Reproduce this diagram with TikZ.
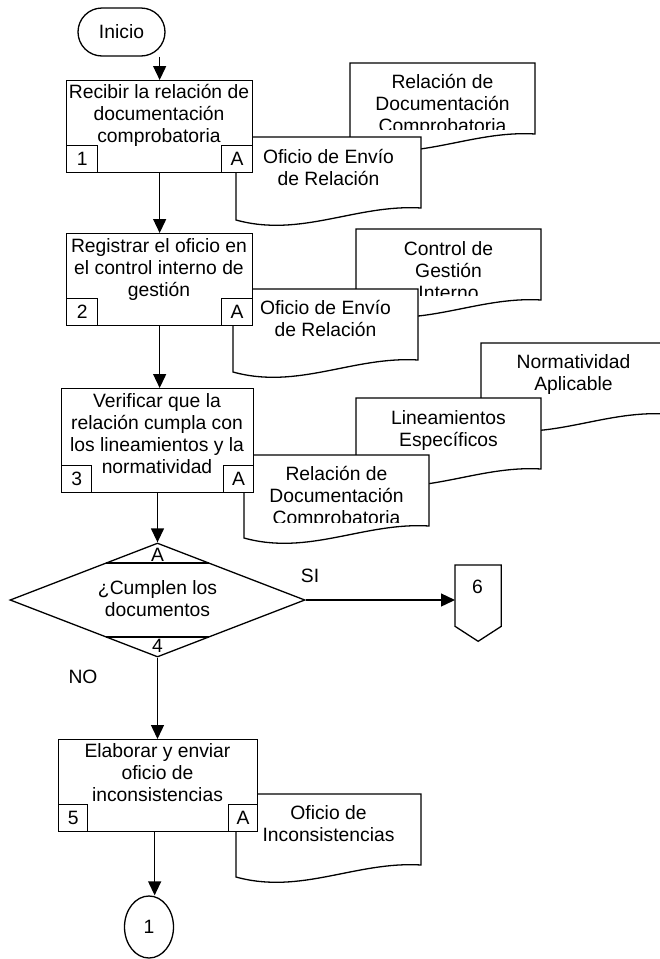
\documentclass[tikz,border=0pt]{standalone}
\usepackage{fontspec}
\setmainfont{Liberation Sans}
\usetikzlibrary{arrows.meta,shapes.geometric,calc}
\newcommand\ffont{\fontsize{19.3}{22}\selectfont}
% document shape: #1 = left x, #2 = top y
\newcommand\docpath[2]{%
  \draw[docline] (#1,#2) -- ({#1+185},#2) -- ({#1+185},{#2+71})
    .. controls ({#1+120},{#2+67}) and ({#1+65},{#2+101}) .. (#1,{#2+83}) -- cycle;}
\begin{document}
\begin{tikzpicture}[x=1pt,y=-1pt,line width=1.3pt,
  docline/.style={draw,fill=white},
  procbox/.style={draw,fill=white,inner sep=0,anchor=north west},
  tagbox/.style={draw,fill=white,inner sep=0,anchor=north west,minimum width=31pt,minimum height=27pt,font=\ffont},
  txt/.style={font=\ffont,align=center,inner sep=0,anchor=base},
  arr/.style={-{Triangle[length=14pt,width=13pt]}}]
\useasboundingbox (0,0) rectangle (660,959);
% (text nodes: anchor=base is the baseline of the LAST line)

% Inicio
\node[draw,rounded corners=24pt,minimum width=87pt,minimum height=48pt,inner sep=0,font=\ffont] (ini) at (121.5,32) {Inicio};

% ---------- step 1 ----------
\docpath{350}{63}
\begin{scope}
  \clip (340,50) rectangle (545,129);
  \node[txt] (d1b) at (442.5,132) {Relación de\\Documentación\\Comprobatoria};
\end{scope}
\docpath{236}{137}
\node[txt] (d1f) at (328.5,185) {Oficio de Envío\\de Relación};
\node[procbox,minimum width=186pt,minimum height=92pt] (b1) at (66,80) {};
\node[tagbox] (b1n) at (66,145) {1};
\node[tagbox] (b1a) at (221,145) {A};
\node[txt] (t1) at (159,142) {Recibir la relación de\\documentación\\comprobatoria};

% ---------- step 2 ----------
\docpath{356}{229}
\begin{scope}
  \clip (346,215) rectangle (550,295);
  \node[txt] (d2b) at (448.5,299) {Control de\\Gestión\\Interno};
\end{scope}
\docpath{233}{289}
\node[txt] (d2f) at (325.5,336) {Oficio de Envío\\de Relación};
\node[procbox,minimum width=186pt,minimum height=92pt] (b2) at (66,233) {};
\node[tagbox] (b2n) at (66,298) {2};
\node[tagbox] (b2a) at (221,298) {A};
\node[txt] (t2) at (159,296) {Registrar el oficio en\\el control interno de\\gestión};

% ---------- step 3 ----------
\docpath{481}{343}
\node[txt] (d3bb) at (573.5,390) {Normatividad\\Aplicable};
\docpath{356}{398}
\node[txt] (d3b) at (448.5,446) {Lineamientos\\Específicos};
\docpath{244}{455}
\begin{scope}
  \clip (234,440) rectangle (440,522);
  \node[txt] (d3f) at (336.5,524) {Relación de\\Documentación\\Comprobatoria};
\end{scope}
\node[procbox,minimum width=192pt,minimum height=104pt] (b3) at (61,388) {};
\node[tagbox,minimum width=30pt] (b3n) at (61,465) {3};
\node[tagbox,minimum width=30pt] (b3a) at (223,465) {A};
\node[txt] (t3) at (157,473) {Verificar que la\\relación cumpla con\\los lineamientos y la\\normatividad};

% ---------- decision ----------
\node[draw,diamond,fill=white,minimum width=295pt,minimum height=114pt,inner sep=0] (dia) at (157.5,600) {};
\draw (105.75,563) -- (209.25,563);
\draw (105.75,637) -- (209.25,637);
\node[txt] (diaA) at (157.5,561) {A};
\node[txt] (dia4) at (157.5,652) {4};
\node[txt] (diat) at (157.5,616) {¿Cumplen los\\documentos};
\node[txt] (si) at (310,582) {SI};
\node[txt] (no) at (83,683) {NO};

% off-page connector 6
\node[minimum width=45pt,minimum height=60pt,inner sep=0,anchor=north west] (c6) at (455,565) {};
\draw (c6.north west) -- (c6.north east) -- (c6.south east) -- ($(c6.south)+(0,15)$) -- (c6.south west) -- cycle;
\node[txt] (c6t) at (477.5,593) {6};

% ---------- step 5 ----------
\docpath{236}{794}
\node[txt] (d5) at (328.5,841) {Oficio de\\Inconsistencias};
\node[procbox,minimum width=199pt,minimum height=92pt] (b5) at (58,739) {};
\node[tagbox,minimum width=29pt] (b5n) at (58,804) {5};
\node[tagbox,minimum width=29pt] (b5a) at (228,804) {A};
\node[txt] (t5) at (157.5,801) {Elaborar y enviar\\oficio de\\inconsistencias};

% connector 1
\node[draw,ellipse,minimum width=49pt,minimum height=62pt,inner sep=0,font=\ffont] (c1) at (149,927) {1};

% ---------- arrows ----------
\draw[arr] (ini.south -| b1.north) -- (b1.north);
\draw[arr] (b1.south) -- (b2.north);
\draw[arr] (b2.south) -- (b2.south |- b3.north);
\draw[arr] (b3.south -| dia.north) -- (dia.north);
\draw[arr] (dia.east) -- (dia.east -| c6.west);
\draw[arr] (dia.south) -- (dia.south |- b5.north);
\draw[arr] ([xshift=-3.5pt]b5.south) -- ([xshift=-3.5pt]b5.south |- c1.north);
\end{tikzpicture}
\end{document}
